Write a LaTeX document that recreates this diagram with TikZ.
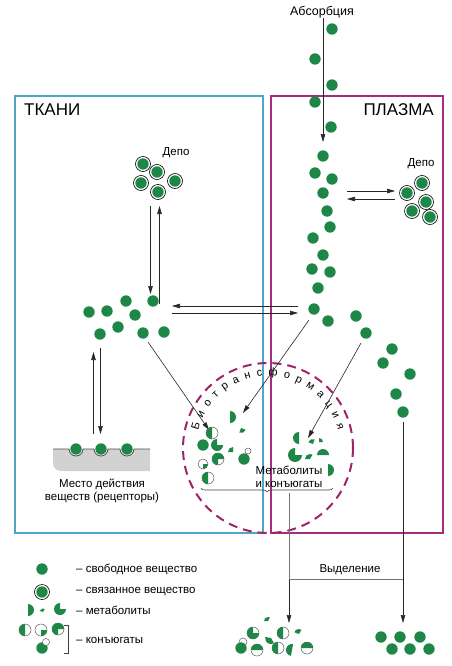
\documentclass[tikz,border=0pt]{standalone}
\usepackage{fontspec}
\setmainfont{Liberation Sans}
\usetikzlibrary{arrows.meta,decorations.text,decorations.pathreplacing,positioning}

\definecolor{drug}{RGB}{30,135,72}
\definecolor{tissuecol}{RGB}{80,165,200}
\definecolor{plasmacol}{RGB}{165,45,125}
\definecolor{biocol}{RGB}{160,35,105}

\pgfmathsetmacro{\dotrad}{5.7}
\pgfmathsetmacro{\bndrad}{7.5}

% drug particles
\newcommand{\freedot}[1]{\fill[drug] (#1) circle[radius=\dotrad];}
\newcommand{\bounddot}[1]{%
  \draw[black, line width=0.6pt, fill=white] (#1) circle[radius=\bndrad];
  \fill[drug] (#1) circle[radius=\dotrad];}
\newcommand{\metpie}[4]{%
  \fill[drug] (#1) -- ++(#3:#2) arc[start angle=#3, end angle=#4, radius=#2] -- cycle;}
\newcommand{\conjpie}[4]{%
  \draw[black!65, line width=0.5pt, fill=white] (#1) circle[radius=#2];
  \metpie{#1}{#2}{#3}{#4}}
\newcommand{\opendot}[2]{\draw[black!65, line width=0.5pt, fill=white] (#1) circle[radius=#2];}

\tikzset{
  flow/.style={black!85, line width=0.6pt, -{Triangle[length=8pt,width=4.5pt]}},
  plain/.style={black!55, line width=0.6pt},
  txt/.style={font=\fontsize{11.5}{12.5}\selectfont, inner sep=0pt},
  bigtxt/.style={font=\fontsize{17}{19}\selectfont, inner sep=0pt},
  compartment/.style={line width=1.8pt},
}

\begin{document}
\begin{tikzpicture}[x=1pt, y=-1pt]
    \useasboundingbox (0,0) rectangle (451,666);
    % compartments
    \draw[compartment, tissuecol] (15,96) rectangle (263,533);
    \draw[compartment, plasmacol] (271,96) rectangle (443,533);
    \node[bigtxt, anchor=west] (tissue) at (24,110) {ТКАНИ};
    \node[bigtxt, anchor=east] (plasma) at (434,110) {ПЛАЗМА};
    % biotransformation zone
    \coordinate (bio) at (268,448);
    \draw[biocol, line width=2pt, dash pattern=on 9pt off 6pt] (bio) circle[radius=85];
    \path[decorate, decoration={text along path, text align={fit to path},
        text format delimiters={|}{|},
        text={|\fontsize{11}{12}\selectfont|Биотрансформация}}]
        ([shift={(-166:72)}]bio) arc[start angle=-166, end angle=-14, radius=72];
    % absorption
    \node[txt, font=\fontsize{12.5}{14}\selectfont] (absorp) at (322,12) {Абсорбция};
    \coordinate (absorp_end) at (323,142);
    \draw[flow] (absorp.south -| absorp_end) -- (absorp_end);
    % free drug in plasma
    \foreach \p in {{332,29},{315,59},{332,85},{315,102},{331,127},
                    {323,156},{315,173},{332,179},{323,193},
                    {327,211},{330,227},{313,238},{323,255},{312,269},{330,272},
                    {318,288},{314,309},{328,321},
                    {356,316},{366,333},{392,349},{383,363},{410,374},{396,394},{403,412}}
        {\freedot{\p}}
    % plasma depot
    \node[txt] (pdepot) at (421,164) {Депо};
    \foreach \p in {{407,193},{422,183},{426,202},{412,211},{430,217}}
        {\bounddot{\p}}
    \coordinate (pd_in) at (395,191);
    \coordinate (pd_out) at (347,199);
    \draw[flow] (pd_in -| pd_out) -- (pd_in);
    \draw[flow] (pd_out -| pd_in) -- (pd_out);
    % tissue depot
    \node[txt] (tdepot) at (176,153) {Депо};
    \foreach \p in {{143,164},{157,172},{141,183},{175,181},{158,192}}
        {\bounddot{\p}}
    % free drug in tissue
    \foreach \p in {{89,312},{107,311},{126,301},{153,301},{135,315},
                    {118,327},{100,334},{143,333},{164,332}}
        {\freedot{\p}}
    \coordinate (td_top) at (155,206);
    \coordinate (td_bot) at (155,294);
    \draw[flow] ([xshift=-4.5pt]td_top) -- ([xshift=-4.5pt]td_bot);
    \draw[flow] ([xshift=4.5pt, yshift=-10pt]td_bot) -- ([xshift=4.5pt]td_top);
    % exchange tissue <-> plasma
    \coordinate (tp_left) at (172,306);
    \coordinate (tp_right) at (298,313);
    \draw[flow] (tp_right |- tp_left) -- (tp_left);
    \draw[flow] (tp_left |- tp_right) -- (tp_right);
    % receptors
    \fill[gray!35] (53,449) -- (69,449) arc[start angle=180, end angle=0, radius=7]
        -- (94,449) arc[start angle=180, end angle=0, radius=7]
        -- (120,449) arc[start angle=180, end angle=0, radius=7]
        -- (150,449) -- (150,471) -- (61,471) arc[start angle=90, end angle=180, radius=8] -- cycle;
    \draw[black!70, line width=0.8pt] (53,449) -- (69,449) arc[start angle=180, end angle=0, radius=7]
        -- (94,449) arc[start angle=180, end angle=0, radius=7]
        -- (120,449) arc[start angle=180, end angle=0, radius=7] -- (150,449);
    \foreach \p in {{76,449},{101,449},{127,449}}
        {\freedot{\p}}
    \node[txt, align=center] (receptor) at (102,491) {Место действия\\веществ (рецепторы)};
    \coordinate (rc_top) at (97,352);
    \coordinate (rc_bot) at (97,434);
    \draw[flow] ([xshift=-3.5pt]rc_bot) -- ([xshift=-3.5pt]rc_top);
    \draw[flow] ([xshift=3.5pt, yshift=4pt]rc_top) -- ([xshift=3.5pt]rc_bot);
    % into biotransformation
    \coordinate (tis_src) at (148,342);
    \coordinate (tis_dst) at (209,430);
    \coordinate (pl_src) at (309,320);
    \coordinate (pl_dst) at (243,413);
    \coordinate (pr_src) at (361,343);
    \coordinate (pr_dst) at (308,438);
    \draw[flow] (tis_src) -- (tis_dst);
    \draw[flow] (pl_src) -- (pl_dst);
    \draw[flow] (pr_src) -- (pr_dst);
    % metabolites and conjugates
    \conjpie{212,433}{6}{90}{270}
    \metpie{230,417}{6}{-90}{90}
    \metpie{241,428}{5}{20}{110}
    \freedot{203,445}
    \metpie{217,445}{6}{0}{270}
    \metpie{233,452}{5}{180}{270}
    \opendot{248,451}{3}
    \freedot{244,459}
    \conjpie{203,464}{5}{0}{90}
    \conjpie{218,459}{6}{90}{360}
    \conjpie{208,478}{6}{90}{270}
    \metpie{299,438}{6}{90}{270}
    \metpie{313,444}{5}{200}{290}
    \metpie{319,442}{4}{-90}{0}
    \metpie{295,455}{7}{0}{270}
    \metpie{310,459}{5}{180}{300}
    \metpie{323,455}{6}{180}{360}
    \metpie{328,470}{6}{-90}{90}
    \node[txt, align=center] (metab) at (289,477) {Метаболиты\\и конъюгаты};
    \draw[black!75, line width=0.6pt, decorate, decoration={brace, amplitude=4pt, mirror}]
        (201,488) -- (333,488);
    \coordinate (brace_tip) at (289,493);
    % excretion
    \coordinate (exc_left) at (289,623);
    \coordinate (exc_right) at (403,623);
    \coordinate (exc_src) at (403,422);
    \coordinate (exc_join) at (289,579);
    \draw[plain] (brace_tip) -- (exc_join);
    \draw[flow] (exc_join) -- (exc_left);
    \draw[plain] (exc_join) -- (exc_join -| exc_src);
    \draw[flow] (exc_src) -- (exc_right);
    \node[txt] (excretion) at (350,570) {Выделение};
    % excreted products
    \metpie{268,621}{4}{180}{300}
    \conjpie{253,633}{6}{0}{270}
    \metpie{271,638}{6}{60}{190}
    \conjpie{283,633}{6}{90}{270}
    \metpie{299,634}{5}{200}{300}
    \opendot{243,642}{4}
    \freedot{241,648}
    \conjpie{257,650}{6}{180}{360}
    \conjpie{278,648}{6}{90}{270}
    \metpie{292,650}{6}{100}{280}
    \conjpie{307,648}{6}{180}{360}
    \foreach \p in {{381,637},{400,637},{420,637},{392,649},{410,649},{429,649}}
        {\freedot{\p}}
    % legend
    \freedot{42,569}
    \node[txt, anchor=west] (leg_free) at (76,569) {– свободное вещество};
    \bounddot{42,592}
    \node[txt, anchor=west] (leg_bound) at (76,592) {– связанное вещество};
    \metpie{28,610}{6}{-90}{90}
    \metpie{43,612}{3.5}{200}{300}
    \metpie{60,609}{6}{0}{270}
    \node[txt, anchor=west] (leg_met) at (76,610) {– метаболиты};
    \conjpie{25,630}{6}{90}{270}
    \conjpie{41,630}{6}{0}{90}
    \conjpie{58,629}{6}{90}{360}
    \freedot{42,648}
    \opendot{46,642}{3.5}
    \draw[black!75, line width=0.6pt] (64,625) -- (68,625) -- (68,653) -- (64,653);
    \node[txt, anchor=west] (leg_conj) at (76,640) {– конъюгаты};
\end{tikzpicture}
\end{document}
